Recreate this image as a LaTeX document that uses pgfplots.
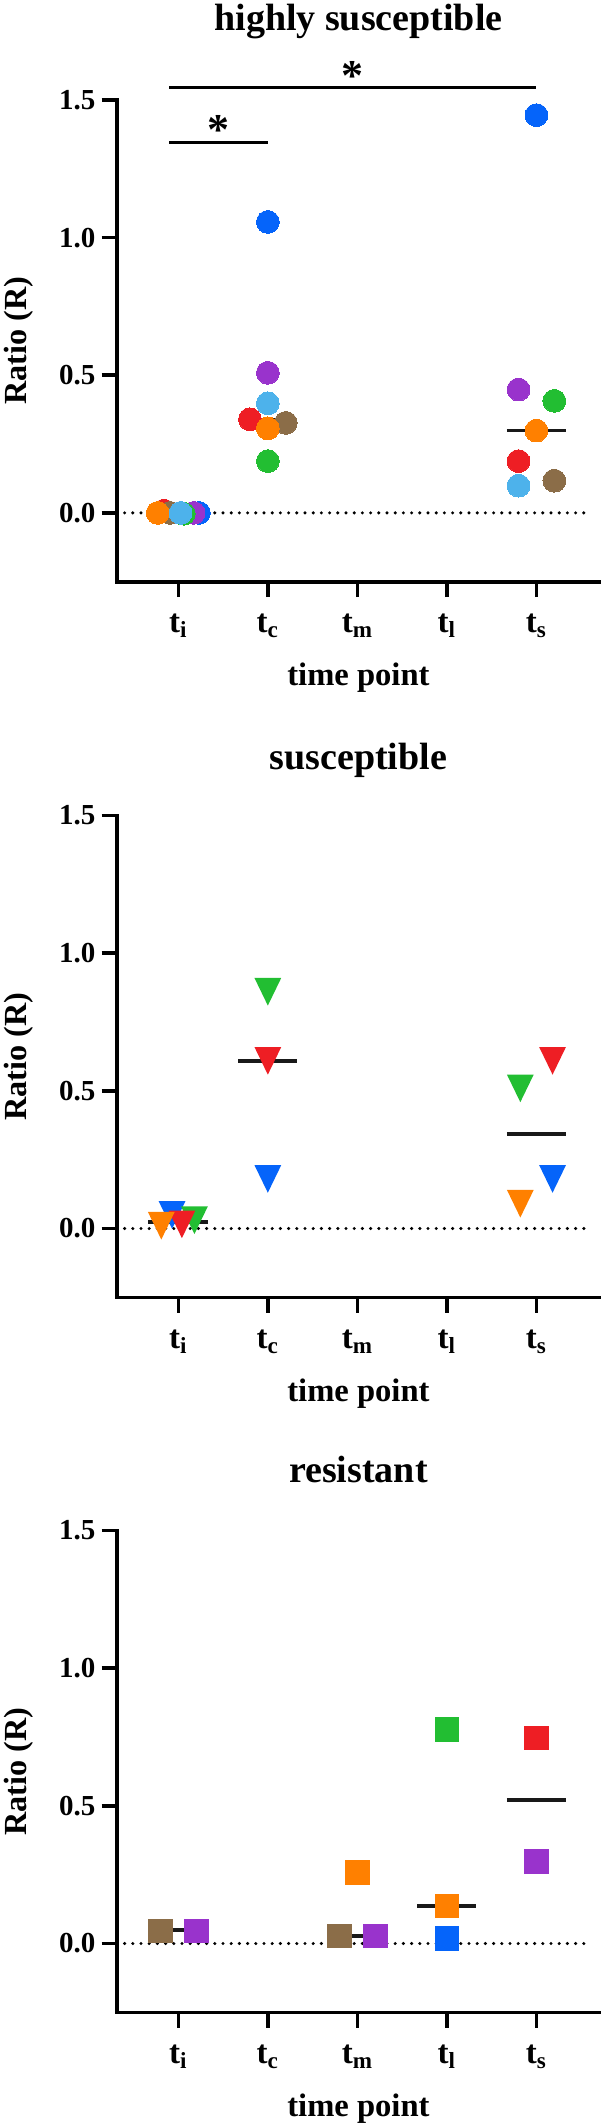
\documentclass[border=0pt]{standalone}
\usepackage{pgfplots}
\pgfplotsset{compat=1.18}
\usepackage{fontspec}
\setmainfont{Liberation Serif}
\definecolor{cRed}{RGB}{238,30,36}
\definecolor{cOrange}{RGB}{255,128,0}
\definecolor{cBrown}{RGB}{139,109,72}
\definecolor{cLBlue}{RGB}{77,178,235}
\definecolor{cPurple}{RGB}{153,51,204}
\definecolor{cBlue}{RGB}{5,100,250}
\definecolor{cGreen}{RGB}{34,190,50}
\definecolor{cMed}{RGB}{25,25,25}

\pgfdeclareplotmark{tridown}{%
  \pgfpathmoveto{\pgfpoint{-0.97\pgfplotmarksize}{\pgfplotmarksize}}%
  \pgfpathlineto{\pgfpoint{0.97\pgfplotmarksize}{\pgfplotmarksize}}%
  \pgfpathlineto{\pgfpoint{0pt}{-\pgfplotmarksize}}%
  \pgfpathclose
  \pgfusepathqfill}

\pgfplotsset{
  every axis title shift=0pt,
  panel/.style={
    scale only axis, width=241.55pt, height=240.85pt,
    anchor=south west,
    xmin=-0.686, xmax=4.71, ymin=-0.25, ymax=1.5,
    axis lines=left,
    axis line style={-, line width=1.8pt, line cap=rect, black},
    xtick={0,1,2,3,4}, ytick={0,0.5,1,1.5},
    yticklabels={0.0,0.5,1.0,1.5},
    xticklabels={t\textsubscript{i},t\textsubscript{c},t\textsubscript{m},t\textsubscript{l},t\textsubscript{s}},
    tick align=outside, major tick length=7.7pt,
    major tick style={line width=1.8pt, black},
    /pgf/number format/assume math mode=true,
    yticklabel style={font=\bfseries\fontsize{14.5}{14.5}\selectfont, anchor=east, inner sep=0pt, xshift=-2.9pt},
    xticklabel style={font=\bfseries\fontsize{16.5}{16.5}\selectfont, anchor=base, yshift=-17.7pt},
    xlabel={time point},
    xlabel style={font=\bfseries\fontsize{16.3}{16.3}\selectfont, at={(axis description cs:0.5,-0.216)}, anchor=base},
    ylabel={Ratio (R)},
    ylabel style={font=\bfseries\fontsize{16.1}{16.1}\selectfont, at={(axis description cs:-0.203,0.5)}, anchor=center, rotate=0},
    title style={font=\bfseries\fontsize{19}{19}\selectfont, anchor=base},
    clip=false,
  },
  circ/.style={only marks, mark=*, mark size=5.7pt, mark options={line width=0pt}},
  tri/.style={only marks, mark=tridown, mark size=6.9pt},
  sqr/.style={only marks, mark=square*, mark size=5.9pt, mark options={line width=0pt}},
  med/.style={mark=none, line width=1.85pt, color=cMed},
  zero/.style={mark=none, line width=1.7pt, black, dash pattern=on 0pt off 4.1pt, line cap=round},
  sig/.style={mark=none, line width=1.8pt, black},
}

\begin{document}
\begin{tikzpicture}
\useasboundingbox (0pt,0pt) rectangle (300pt,-1063pt);

% ---------------- highly susceptible ----------------
\begin{axis}[panel, at={(58.45pt,-290.85pt)},
  title={highly susceptible},
  title style={at={(axis description cs:0.5,1.1453)}}]
\addplot[zero] coordinates {(-0.6,0) (4.61,0)};
\addplot[circ, color=cBlue]   coordinates {(0.23,0) (1,1.057) (4,1.445)};
\addplot[circ, color=cPurple] coordinates {(0.17,0) (1,0.509) (3.8,0.448)};
\addplot[circ, color=cGreen]  coordinates {(0.06,-0.003) (1,0.188) (4.2,0.407)};
\addplot[circ, color=cRed]    coordinates {(-0.16,0.008) (0.8,0.340) (3.8,0.188)};
\addplot[circ, color=cBrown]  coordinates {(-0.09,0) (1.2,0.327) (4.2,0.117)};
\addplot[circ, color=cOrange] coordinates {(-0.23,0) (1,0.307) (4,0.299)};
\addplot[circ, color=cLBlue]  coordinates {(0.025,0) (1,0.398) (3.8,0.099)};
\addplot[med] coordinates {(-0.33,0) (0.33,0)};
\addplot[med] coordinates {(0.67,0.337) (1.33,0.337)};
\addplot[med] coordinates {(3.67,0.299) (4.33,0.299)};
% significance bars
\addplot[sig] coordinates {(-0.1,1.545) (4,1.545)};
\addplot[sig] coordinates {(-0.1,1.346) (1,1.346)};
\node[anchor=base, font=\bfseries\fontsize{22}{22}\selectfont, inner sep=0pt] at (axis cs:1.94,1.535) {*};
\node[anchor=base, font=\bfseries\fontsize{22}{22}\selectfont, inner sep=0pt] at (axis cs:0.45,1.337) {*};
\end{axis}

% ---------------- susceptible ----------------
\begin{axis}[panel, at={(58.45pt,-648.65pt)},
  title={susceptible},
  title style={at={(axis description cs:0.5,1.0955)}}]
\addplot[zero] coordinates {(-0.6,0) (4.61,0)};
\addplot[tri, color=cBlue]   coordinates {(-0.07,0.049) (1,0.180) (4.18,0.180)};
\addplot[tri, color=cGreen]  coordinates {(0.18,0.030) (1,0.860) (3.82,0.509)};
\addplot[tri, color=cRed]    coordinates {(0.04,0.015) (1,0.609) (4.18,0.609)};
\addplot[tri, color=cOrange] coordinates {(-0.19,0.010) (3.82,0.090)};
\addplot[med] coordinates {(-0.335,0.024) (0.335,0.024)};
\addplot[med] coordinates {(0.67,0.609) (1.33,0.609)};
\addplot[med] coordinates {(3.67,0.344) (4.33,0.344)};
\end{axis}

% ---------------- resistant ----------------
\begin{axis}[panel, at={(58.45pt,-1006.15pt)},
  title={resistant},
  title style={at={(axis description cs:0.5,1.099)}}]
\addplot[zero] coordinates {(-0.6,0) (4.61,0)};
\addplot[sqr, color=cBrown]  coordinates {(-0.2,0.046) (1.8,0.027)};
\addplot[sqr, color=cPurple] coordinates {(0.2,0.046) (2.2,0.027) (4,0.297)};
\addplot[sqr, color=cOrange] coordinates {(2,0.257) (3,0.136)};
\addplot[sqr, color=cBlue]   coordinates {(3,0.018)};
\addplot[sqr, color=cGreen]  coordinates {(3,0.777)};
\addplot[sqr, color=cRed]    coordinates {(4,0.746)};
\addplot[med] coordinates {(-0.33,0.049) (0.33,0.049)};
\addplot[med] coordinates {(1.67,0.028) (2.33,0.028)};
\addplot[med] coordinates {(2.67,0.137) (3.33,0.137)};
\addplot[med] coordinates {(3.67,0.522) (4.33,0.522)};
\end{axis}
\end{tikzpicture}
\end{document}
